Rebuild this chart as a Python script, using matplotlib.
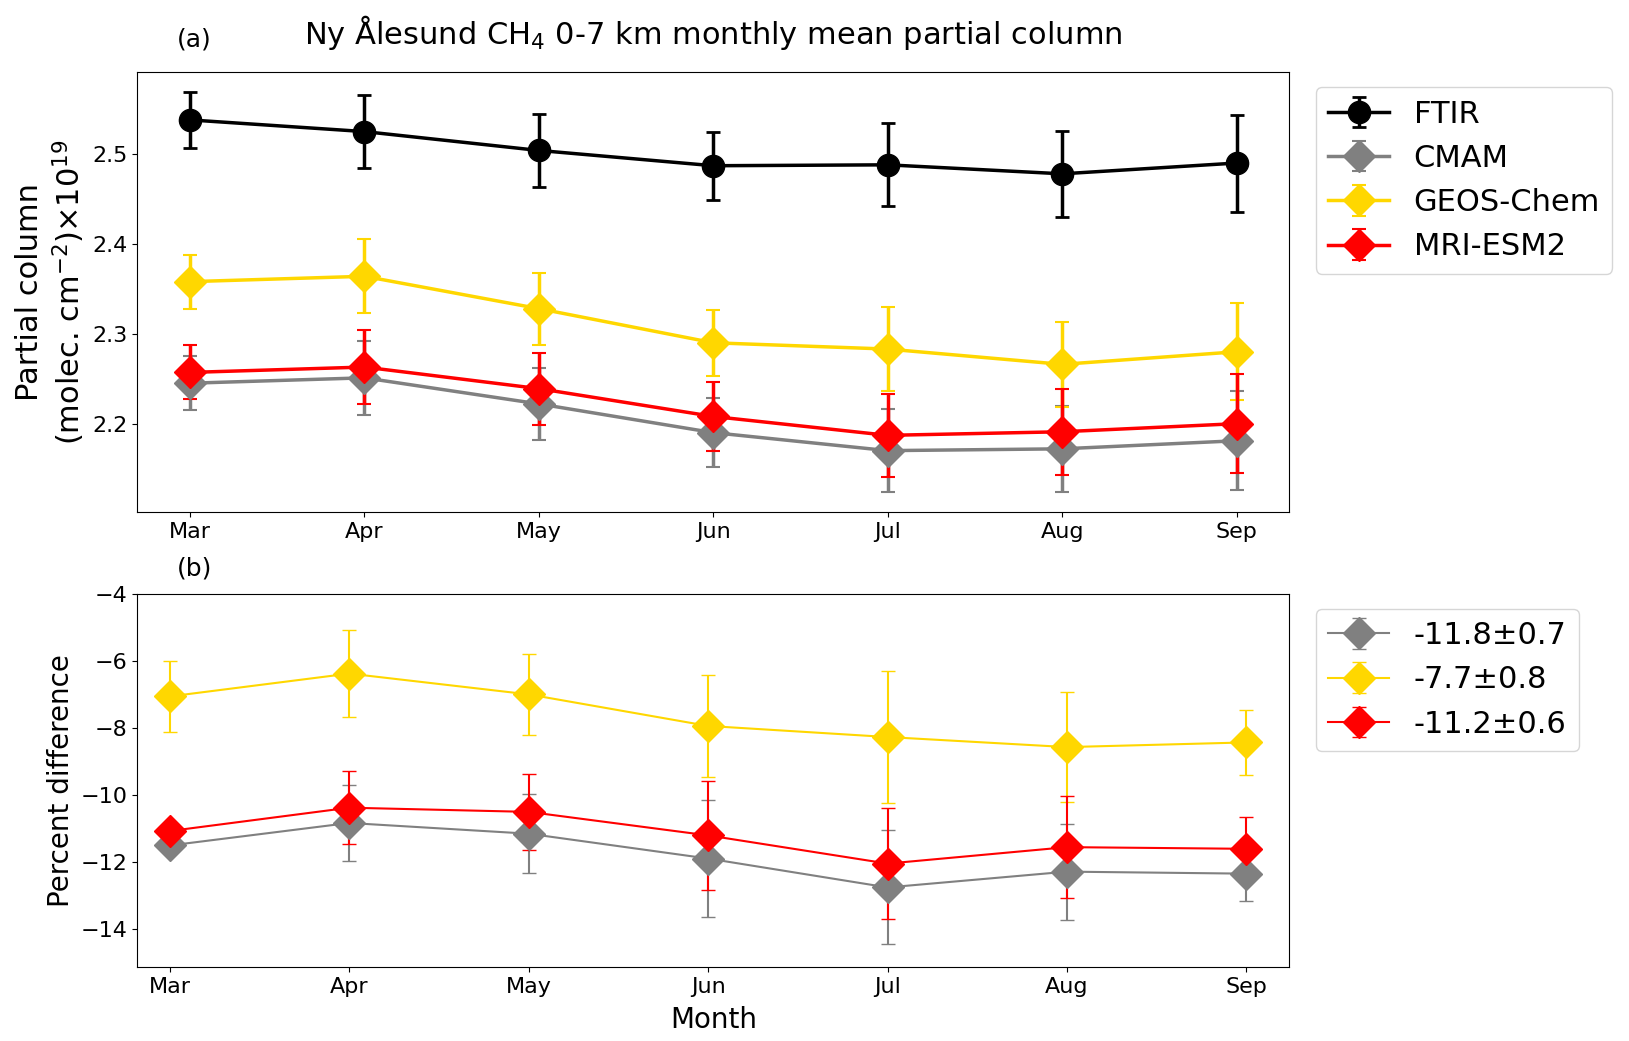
import numpy as np
import matplotlib
matplotlib.use('Agg')
import matplotlib.pyplot as plt

months = ['Mar', 'Apr', 'May', 'Jun', 'Jul', 'Aug', 'Sep']

# (a) partial columns, x1e19 molec/cm2
ftir = [2.538, 2.525, 2.504, 2.487, 2.488, 2.478, 2.490]
ftir_err = [0.031, 0.041, 0.041, 0.038, 0.046, 0.048, 0.054]
cmam = [2.245, 2.251, 2.222, 2.190, 2.170, 2.172, 2.181]
cmam_err = [0.030, 0.041, 0.040, 0.038, 0.046, 0.048, 0.055]
geos = [2.358, 2.364, 2.328, 2.290, 2.283, 2.266, 2.280]
geos_err = [0.030, 0.041, 0.040, 0.037, 0.047, 0.047, 0.054]
mri = [2.257, 2.263, 2.239, 2.208, 2.187, 2.191, 2.200]
mri_err = [0.030, 0.041, 0.040, 0.038, 0.046, 0.048, 0.055]

# (b) percent differences (model - FTIR)
cmam_pd = [-11.50, -10.83, -11.15, -11.89, -12.75, -12.28, -12.34]
cmam_pd_err = [np.nan, 1.12, 1.18, 1.75, 1.70, 1.43, 0.82]
geos_pd = [-7.06, -6.38, -7.00, -7.94, -8.27, -8.57, -8.43]
geos_pd_err = [1.06, 1.30, 1.21, 1.51, 1.98, 1.63, 0.97]
mri_pd = [-11.07, -10.375, -10.50, -11.20, -12.04, -11.55, -11.60]
mri_pd_err = [np.nan, 1.09, 1.14, 1.62, 1.66, 1.52, 0.95]
pd_labels = ['-11.8\u00b10.7', '-7.7\u00b10.8', '-11.2\u00b10.6']

x = np.arange(len(months))

fig = plt.figure(figsize=(16.29, 10.41), dpi=100)
ax1 = fig.add_axes([0.0844, 0.5082, 0.7069, 0.4226])
ax2 = fig.add_axes([0.0844, 0.0711, 0.7069, 0.3586])

# top panel
ax1.errorbar(x, ftir, yerr=ftir_err, color='black', marker='o', ms=16, lw=2.5,
             capsize=5, capthick=2, label='FTIR')
ax1.errorbar(x, cmam, yerr=cmam_err, color='grey', marker='D', ms=16, lw=2.5,
             capsize=5, capthick=1.5, label='CMAM')
ax1.errorbar(x, geos, yerr=geos_err, color='gold', marker='D', ms=16, lw=2.5,
             capsize=5, capthick=1.5, label='GEOS-Chem')
ax1.errorbar(x, mri, yerr=mri_err, color='red', marker='D', ms=16, lw=2.5,
             capsize=5, capthick=1.5, label='MRI-ESM2')

ax1.set_xticks(x)
ax1.set_xticklabels(months)
ax1.tick_params(axis='both', labelsize=16)
ax1.set_ylabel('Partial column\n(molec. cm$^{-2}$)\u00d710$^{19}$', fontsize=22)
ax1.set_title('Ny \u00c5lesund CH$_4$ 0-7 km monthly mean partial column', fontsize=22, pad=20)
ax1.text(0.034, 1.073, '(a)', transform=ax1.transAxes, fontsize=18, va='center')
ax1.legend(fontsize=22, loc='upper left', bbox_to_anchor=(1.01, 1))

# bottom panel
ax2.errorbar(x, cmam_pd, yerr=cmam_pd_err, color='grey', marker='D', ms=16, lw=1.5,
             capsize=5, label=pd_labels[0])
ax2.errorbar(x, geos_pd, yerr=geos_pd_err, color='gold', marker='D', ms=16, lw=1.5,
             capsize=5, label=pd_labels[1])
ax2.errorbar(x, mri_pd, yerr=mri_pd_err, color='red', marker='D', ms=16, lw=1.5,
             capsize=5, label=pd_labels[2])

ax2.set_xticks(x)
ax2.set_xticklabels(months)
ax2.set_xlim(-0.18, 6.237)
ax2.set_ylim(-15.12, -4)
ax2.tick_params(axis='both', labelsize=16)
ax2.set_xlabel('Month', fontsize=20, labelpad=7)
ax2.set_ylabel('Percent difference', fontsize=20)
ax2.text(0.034, 1.067, '(b)', transform=ax2.transAxes, fontsize=18, va='center')
ax2.legend(fontsize=22, loc='upper left', bbox_to_anchor=(1.01, 1.0))

plt.savefig('out.png', dpi=100)
plt.close()
